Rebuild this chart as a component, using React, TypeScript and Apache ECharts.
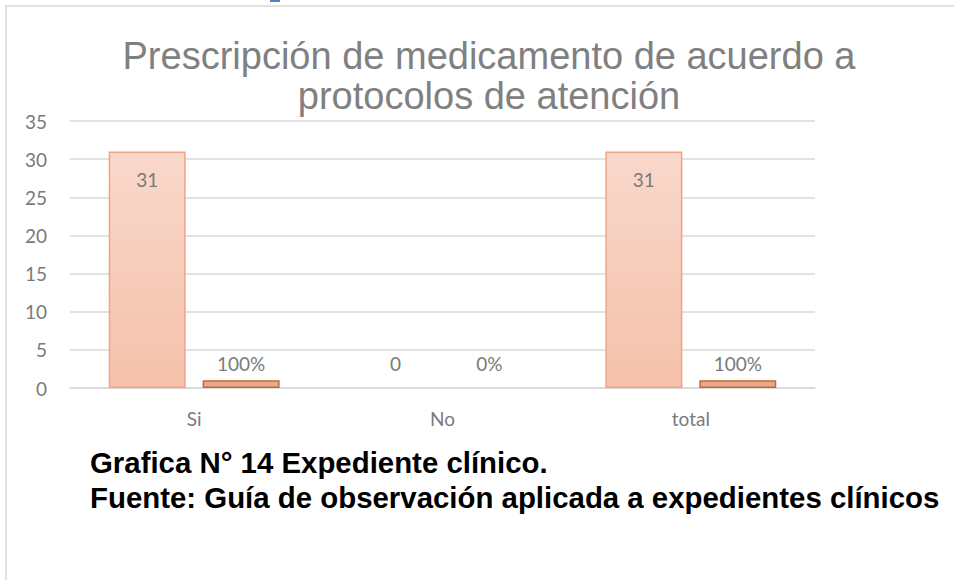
import React, { useEffect, useRef } from "react";
import * as echarts from "echarts";

const categories = ["Si", "No", "total"];
const countValues = [31, 0, 31];
const percentValues = [1, 0, 1];
const percentLabels = ["100%", "0%", "100%"];
const yTicks = { min: 0, max: 35, interval: 5 };
const titleText = "Prescripción de medicamento de acuerdo a\nprotocolos de atención";
const captionLines = [
  "Grafica N° 14 Expediente clínico.",
  "Fuente: Guía de observación aplicada a expedientes clínicos",
];

export default function App() {
  const ref = useRef<HTMLDivElement>(null);
  useEffect(() => {
    if (!ref.current) return;
    const chart = echarts.init(ref.current, null, { renderer: "svg" });
    const axisFont = "Lato, 'Open Sans', sans-serif";
    const zeroItem = (v: number, dist: number) =>
      v === 0
        ? {
            value: v,
            itemStyle: { opacity: 0 },
            label: { position: "top", distance: dist, opacity: 1 },
          }
        : { value: v };
    chart.setOption({
      animation: false,
      backgroundColor: "#ffffff",
      title: {
        text: titleText,
        left: 484,
        textAlign: "center",
        top: 31,
        textStyle: {
          fontFamily: "'Liberation Sans', Arial, sans-serif",
          fontSize: 38,
          fontWeight: "normal",
          color: "#808080",
          lineHeight: 40,
        },
      },
      grid: { left: 70, right: 139, top: 121, bottom: 192, containLabel: false },
      xAxis: {
        type: "category",
        data: categories,
        axisLine: { show: true, lineStyle: { color: "#d9d9d9", width: 1.5 } },
        axisTick: { show: false },
        axisLabel: {
          fontFamily: axisFont,
          fontSize: 19,
          color: "#7a7a7a",
          margin: 21,
        },
      },
      yAxis: {
        type: "value",
        min: yTicks.min,
        max: yTicks.max,
        interval: yTicks.interval,
        axisLine: { show: false },
        axisTick: { show: false },
        splitLine: { lineStyle: { color: "#d9d9d9", width: 1.5 } },
        axisLabel: {
          fontFamily: axisFont,
          fontSize: 19,
          color: "#7a7a7a",
          margin: 23,
        },
      },
      series: [
        {
          type: "bar",
          data: countValues.map((v) => zeroItem(v, 14)),
          barWidth: 77,
          barGap: "22%",
          itemStyle: {
            color: new echarts.graphic.LinearGradient(0, 0, 0, 1, [
              { offset: 0, color: "#f9d8cb" },
              { offset: 1, color: "#f5c1aa" },
            ]),
            borderColor: "#f0a285",
            borderWidth: 1.5,
          },
          label: {
            show: true,
            position: "insideTop",
            distance: 18,
            fontFamily: axisFont,
            fontSize: 19,
            color: "#7a7a7a",
          },
        },
        {
          type: "bar",
          data: percentValues.map((v) => zeroItem(v, 14)),
          barWidth: 77,
          itemStyle: {
            color: "#e4ab90",
            borderColor: "#c8692a",
            borderWidth: 1.5,
          },
          label: {
            show: true,
            position: "top",
            distance: 7,
            fontFamily: axisFont,
            fontSize: 19,
            color: "#7a7a7a",
            formatter: (p: any) => percentLabels[p.dataIndex],
          },
        },
      ],
      graphic: [
        {
          type: "rect",
          shape: { x: 6, y: 6, width: 960, height: 590 },
          style: { fill: "none", stroke: "#d9d9d9", lineWidth: 1.5 },
          silent: true,
        },
        {
          type: "rect",
          shape: { x: 270, y: 0, width: 10, height: 2 },
          style: { fill: "#4a86c8" },
          silent: true,
        },
        {
          type: "text",
          x: 90,
          y: 462,
          style: {
            text: captionLines[0],
            fontFamily: "'Liberation Sans', Arial, sans-serif",
            fontSize: 29.4,
            fontWeight: "bold",
            fill: "#000000",
            verticalAlign: "middle",
          },
        },
        {
          type: "text",
          x: 90,
          y: 497,
          style: {
            text: captionLines[1],
            fontFamily: "'Liberation Sans', Arial, sans-serif",
            fontSize: 29.4,
            fontWeight: "bold",
            fill: "#000000",
            verticalAlign: "middle",
          },
        },
      ],
    });
    return () => chart.dispose();
  }, []);
  return (
    <div
      ref={ref}
      style={{ position: "fixed", left: 0, top: 0, width: 954, height: 580 }}
    />
  );
}
